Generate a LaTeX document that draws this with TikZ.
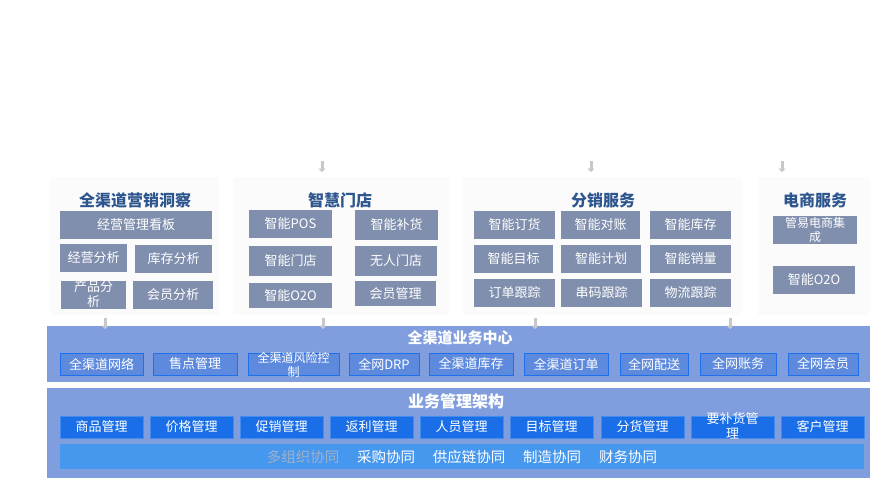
\documentclass[tikz,border=0pt]{standalone}
\usepackage{fontspec}
\setmainfont{Noto Sans CJK SC}
\usetikzlibrary{fit,arrows.meta}
\definecolor{panelbg}{RGB}{251,251,252}
\definecolor{titleblue}{RGB}{46,86,142}
\definecolor{gboxc}{RGB}{128,143,174}
\definecolor{bandc}{RGB}{128,158,222}
\definecolor{cboxc}{RGB}{94,138,222}
\definecolor{cborder}{RGB}{30,112,236}
\definecolor{bboxc}{RGB}{26,111,232}
\definecolor{bborder}{RGB}{66,140,238}
\definecolor{stripc}{RGB}{70,151,238}
\definecolor{dimtext}{RGB}{160,176,202}
\definecolor{markc}{RGB}{200,200,204}
\newcommand{\mybx}[7]{%
  \node[#1,fit={(#3,#4) (#5,#6)}] (#2) {};
  \node[wlab] (#2t) at (#2.center) {#7};}
\begin{document}
\begin{tikzpicture}[x=1pt,y=-1pt,
  panel/.style={fill=panelbg,draw=none,inner sep=0pt},
  ptitle/.style={font=\bfseries\fontsize{16}{18}\selectfont,text=titleblue,inner sep=0pt},
  btitle/.style={font=\bfseries\fontsize{15}{17}\selectfont,text=white,inner sep=0pt},
  gbox/.style={fill=gboxc,draw=none,inner sep=0pt},
  cbox/.style={fill=cboxc,draw=cborder,line width=1pt,inner sep=0pt},
  bbox/.style={fill=bboxc,draw=bborder,line width=0.8pt,inner sep=0pt},
  band/.style={fill=bandc,draw=none,inner sep=0pt},
  strip/.style={fill=stripc,draw=none,inner sep=0pt},
  wlab/.style={text=white,align=center,inner sep=0pt,font=\fontsize{13}{15}\selectfont},
  smlab/.style={wlab,font=\fontsize{12}{14}\selectfont},
  stext/.style={text=white,inner sep=0pt,font=\fontsize{14.5}{16}\selectfont},
  marker/.style={markc,line width=3pt,-{Triangle[width=7pt,length=3.5pt]}}
]
\useasboundingbox[fill=white] (0,0) rectangle (882,479);

% panels
\node[panel,fit={(50,177) (219,315)}] (p1) {};
\node[panel,fit={(233,177) (449,315)}] (p2) {};
\node[panel,fit={(463,177) (742,315)}] (p3) {};
\node[panel,fit={(758,177) (870,315)}] (p4) {};

\node[ptitle] (t1) at (135,200) {全渠道营销洞察};
\node[ptitle] (t2) at (340,200) {智慧门店};
\node[ptitle] (t3) at (603,200) {分销服务};
\node[ptitle] (t4) at (815,200) {电商服务};

% panel 1
\mybx{gbox}{a1}{60}{211}{212}{239}{经营管理看板}
\mybx{gbox}{a2}{60}{244}{127}{272}{经营分析}
\mybx{gbox}{a3}{135}{245}{212}{273}{库存分析}
\node[gbox,fit={(61,281) (126,309)}] (a4) {};
\node[wlab] (a4t) at (93.5,294) {产品分\\析};
\mybx{gbox}{a5}{133}{281}{213}{309}{会员分析}

% panel 2
\mybx{gbox}{b1}{249}{210}{332}{238}{智能POS}
\mybx{gbox}{b2}{249}{246}{332}{276}{智能门店}
\mybx{gbox}{b3}{249}{283}{332}{308}{智能O2O}
\mybx{gbox}{b4}{355}{210}{438}{240}{智能补货}
\mybx{gbox}{b5}{355}{246}{437}{276}{无人门店}
\mybx{gbox}{b6}{355}{281}{436}{306}{会员管理}

% panel 3
\mybx{gbox}{c1}{474}{211}{555}{239}{智能订货}
\mybx{gbox}{c2}{474}{245}{553}{273}{智能目标}
\mybx{gbox}{c3}{474}{279}{555}{307}{订单跟踪}
\mybx{gbox}{c4}{561}{211}{640}{239}{智能对账}
\mybx{gbox}{c5}{561}{245}{641}{273}{智能计划}
\mybx{gbox}{c6}{561}{279}{642}{307}{串码跟踪}
\mybx{gbox}{c7}{650}{211}{731}{239}{智能库存}
\mybx{gbox}{c8}{650}{245}{731}{273}{智能销量}
\mybx{gbox}{c9}{650}{279}{731}{307}{物流跟踪}

% panel 4
\node[gbox,fit={(773,216) (857,244)}] (d1) {};
\node[smlab] (d1t) at (815,230) {管易电商集\\成};
\mybx{gbox}{d2}{773}{266}{855}{294}{智能O2O}

% band 1
\node[band,fit={(47,326) (870,382)}] (band1) {};
\node[btitle] (bt1) at (460,338) {全渠道业务中心};
\mybx{cbox}{e1}{60}{353}{143}{375}{全渠道网络}
\mybx{cbox}{e2}{153}{353}{237}{375}{售点管理}
\node[cbox,fit={(248,353) (339,375)}] (e3) {};
\node[smlab] (e3t) at (293.5,364.5) {全渠道风险控\\制};
\mybx{cbox}{e4}{349}{353}{419}{375}{全网DRP}
\mybx{cbox}{e5}{429}{353}{513}{375}{全渠道库存}
\mybx{cbox}{e6}{524}{353}{608}{375}{全渠道订单}
\mybx{cbox}{e7}{620}{353}{688}{375}{全网配送}
\mybx{cbox}{e8}{700}{353}{776}{375}{全网账务}
\mybx{cbox}{e9}{788}{353}{858}{375}{全网会员}

% band 2
\node[band,fit={(47,388) (870,478)}] (band2) {};
\node[btitle,font=\bfseries\fontsize{16}{18}\selectfont] (bt2) at (456,401) {业务管理架构};
\mybx{bbox}{f1}{60}{416}{143}{438}{商品管理}
\mybx{bbox}{f2}{150}{416}{233}{438}{价格管理}
\mybx{bbox}{f3}{240}{416}{323}{438}{促销管理}
\mybx{bbox}{f4}{330}{416}{413}{438}{返利管理}
\mybx{bbox}{f5}{420}{416}{503}{438}{人员管理}
\mybx{bbox}{f6}{510}{416}{593}{438}{目标管理}
\mybx{bbox}{f7}{601}{416}{684}{438}{分货管理}
\node[bbox,fit={(691,416) (774,438)}] (f8) {};
\node[wlab] (f8t) at (732.5,425.5) {要补货管\\理};
\mybx{bbox}{f9}{781}{416}{864}{438}{客户管理}

\node[strip,fit={(60,444) (864,469)}] (strip) {};
\node[stext,text=dimtext] (s1) at (303,457) {多组织协同};
\node[stext] (s2) at (386,457) {采购协同};
\node[stext] (s3) at (469,457) {供应链协同};
\node[stext] (s4) at (552,457) {制造协同};
\node[stext] (s5) at (628,457) {财务协同};

% small markers
\foreach \n/\x/\y in {m1/322/161, m2/591/161, m3/782/161, m4/105/318, m5/323/318, m6/535/318, m7/730/318} {
  \coordinate (\n) at (\x,\y);
  \coordinate (\n e) at (\x,\y+11);
  \draw[marker] (\n) -- (\n e);
}
\end{tikzpicture}
\end{document}
